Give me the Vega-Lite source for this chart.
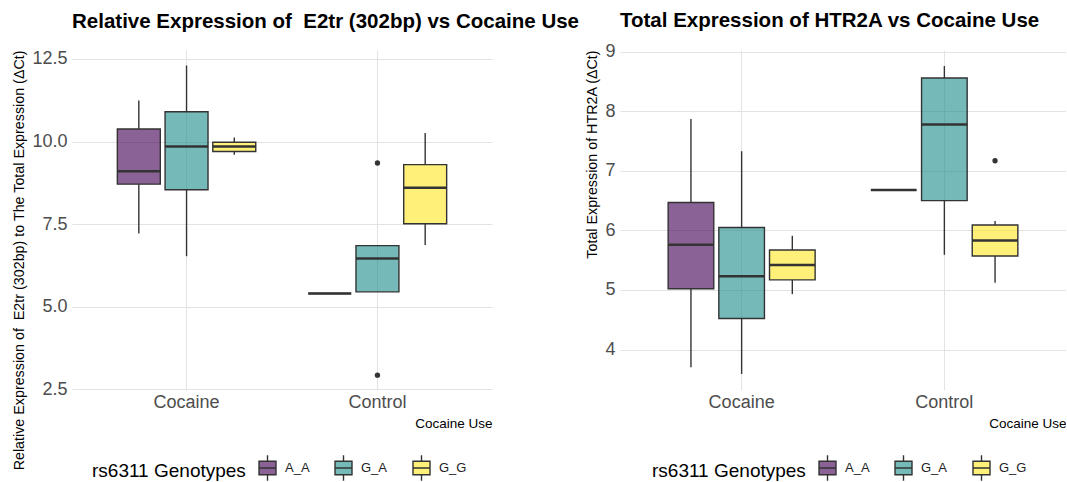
{
  "$schema": "https://vega.github.io/schema/vega-lite/v6.json",
  "padding": {"left": 12, "top": 11, "right": 0, "bottom": 0},
  "background": "white",
  "datasets": {
    "boxes": [
      {"panel": "E2tr", "use": "Cocaine", "genotype": "A_A", "lower": 7.22, "q1": 8.71, "median": 9.10, "q3": 10.38, "upper": 11.24},
      {"panel": "E2tr", "use": "Cocaine", "genotype": "G_A", "lower": 6.53, "q1": 8.54, "median": 9.85, "q3": 10.90, "upper": 12.30},
      {"panel": "E2tr", "use": "Cocaine", "genotype": "G_G", "lower": 9.60, "q1": 9.70, "median": 9.85, "q3": 9.98, "upper": 10.12},
      {"panel": "E2tr", "use": "Control", "genotype": "A_A", "lower": 5.40, "q1": 5.40, "median": 5.40, "q3": 5.40, "upper": 5.40},
      {"panel": "E2tr", "use": "Control", "genotype": "G_A", "lower": 5.45, "q1": 5.45, "median": 6.46, "q3": 6.85, "upper": 6.85},
      {"panel": "E2tr", "use": "Control", "genotype": "G_G", "lower": 6.87, "q1": 7.51, "median": 8.60, "q3": 9.30, "upper": 10.26},
      {"panel": "HTR2A", "use": "Cocaine", "genotype": "A_A", "lower": 3.70, "q1": 5.02, "median": 5.76, "q3": 6.47, "upper": 7.87},
      {"panel": "HTR2A", "use": "Cocaine", "genotype": "G_A", "lower": 3.59, "q1": 4.52, "median": 5.23, "q3": 6.05, "upper": 7.33},
      {"panel": "HTR2A", "use": "Cocaine", "genotype": "G_G", "lower": 4.93, "q1": 5.17, "median": 5.42, "q3": 5.67, "upper": 5.91},
      {"panel": "HTR2A", "use": "Control", "genotype": "A_A", "lower": 6.68, "q1": 6.68, "median": 6.68, "q3": 6.68, "upper": 6.68},
      {"panel": "HTR2A", "use": "Control", "genotype": "G_A", "lower": 5.59, "q1": 6.50, "median": 7.78, "q3": 8.56, "upper": 8.76},
      {"panel": "HTR2A", "use": "Control", "genotype": "G_G", "lower": 5.12, "q1": 5.57, "median": 5.83, "q3": 6.09, "upper": 6.16}
    ],
    "outliers": [
      {"panel": "E2tr", "use": "Control", "genotype": "G_A", "value": 9.35},
      {"panel": "E2tr", "use": "Control", "genotype": "G_A", "value": 2.93},
      {"panel": "HTR2A", "use": "Control", "genotype": "G_G", "value": 7.17}
    ]
  },
  "spacing": 128,
  "bounds": "flush",
  "hconcat": [
    {
      "width": 420,
      "height": 340,
      "title": {"text": "Relative Expression of \u00a0E2tr (302bp) vs Cocaine Use", "offset": 17},
      "resolve": {"axis": {"y": "independent"}},
      "layer": [
        {
          "data": {"name": "boxes"},
          "transform": [{"filter": "datum.panel === 'E2tr'"}],
          "mark": {"type": "rule", "color": "#333333", "strokeWidth": 1.4},
          "encoding": {
            "x": {"field": "use", "type": "nominal", "scale": {"paddingInner": 0.25, "paddingOuter": 0.225}, "title": "Cocaine Use"},
            "xOffset": {"field": "genotype", "type": "nominal", "scale": {"domain": ["A_A", "G_A", "G_G"], "paddingInner": 0.1, "paddingOuter": 0.05}},
            "y": {"field": "lower", "type": "quantitative", "scale": {"domain": [2.48, 12.77], "nice": false, "zero": false},
                  "axis": {"values": [2.5, 5, 7.5, 10, 12.5], "format": ".1f", "title": "Relative Expression of \u00a0E2tr (302bp) to The Total Expression (ΔCt)"}},
            "y2": {"field": "q1"}
          }
        },
        {
          "data": {"name": "boxes"},
          "transform": [{"filter": "datum.panel === 'E2tr'"}],
          "mark": {"type": "rule", "color": "#333333", "strokeWidth": 1.4},
          "encoding": {
            "x": {"field": "use", "type": "nominal"},
            "xOffset": {"field": "genotype", "type": "nominal"},
            "y": {"field": "q3", "type": "quantitative",
                  "axis": {"orient": "right", "values": [3.75, 6.25, 8.75, 11.25], "labels": false, "ticks": false, "domain": false, "title": null, "gridColor": "#f0f0f0", "gridWidth": 0.8}},
            "y2": {"field": "upper"}
          }
        },
        {
          "data": {"name": "boxes"},
          "transform": [{"filter": "datum.panel === 'E2tr'"}],
          "mark": {"type": "bar", "stroke": "#333333", "strokeWidth": 1.4, "fillOpacity": 0.62},
          "encoding": {
            "x": {"field": "use", "type": "nominal"},
            "xOffset": {"field": "genotype", "type": "nominal"},
            "y": {"field": "q1", "type": "quantitative", "axis": null},
            "y2": {"field": "q3"},
            "color": {"field": "genotype", "type": "nominal", "scale": {"domain": ["A_A", "G_A", "G_G"], "range": ["#440154", "#21908C", "#FDE725"]},
                      "legend": {"title": "rs6311 Genotypes", "orient": "none", "legendX": 20, "legendY": 408,
                                 "encode": {"symbols": {"update": {"fillOpacity": {"value": 0.62}, "stroke": {"value": "#333333"}, "strokeWidth": {"value": 1.4}}}}}}
          }
        },
        {
          "data": {"name": "boxes"},
          "transform": [{"filter": "datum.panel === 'E2tr'"}],
          "mark": {"type": "bar", "fill": "transparent", "stroke": "#333333", "strokeWidth": 2.6},
          "encoding": {
            "x": {"field": "use", "type": "nominal"},
            "xOffset": {"field": "genotype", "type": "nominal"},
            "y": {"field": "median", "type": "quantitative", "axis": null},
            "y2": {"field": "median"}
          }
        },
        {
          "data": {"name": "outliers"},
          "transform": [{"filter": "datum.panel === 'E2tr'"}],
          "mark": {"type": "point", "filled": true, "color": "#333333", "size": 28, "opacity": 1},
          "encoding": {
            "x": {"field": "use", "type": "nominal"},
            "xOffset": {"field": "genotype", "type": "nominal"},
            "y": {"field": "value", "type": "quantitative", "axis": null}
          }
        }
      ]
    },
    {
      "width": 446,
      "height": 340,
      "title": {"text": "Total Expression of HTR2A vs Cocaine Use", "offset": 11},
      "resolve": {"axis": {"y": "independent"}},
      "layer": [
        {
          "data": {"name": "boxes"},
          "transform": [{"filter": "datum.panel === 'HTR2A'"}],
          "mark": {"type": "rule", "color": "#333333", "strokeWidth": 1.4},
          "encoding": {
            "x": {"field": "use", "type": "nominal", "scale": {"paddingInner": 0.25, "paddingOuter": 0.225}, "title": "Cocaine Use"},
            "xOffset": {"field": "genotype", "type": "nominal", "scale": {"domain": ["A_A", "G_A", "G_G"], "paddingInner": 0.1, "paddingOuter": 0.05}},
            "y": {"field": "lower", "type": "quantitative", "scale": {"domain": [3.32, 9.03], "nice": false, "zero": false},
                  "axis": {"values": [4, 5, 6, 7, 8, 9], "format": "d", "title": "Total Expression of HTR2A (ΔCt)"}},
            "y2": {"field": "q1"}
          }
        },
        {
          "data": {"name": "boxes"},
          "transform": [{"filter": "datum.panel === 'HTR2A'"}],
          "mark": {"type": "rule", "color": "#333333", "strokeWidth": 1.4},
          "encoding": {
            "x": {"field": "use", "type": "nominal"},
            "xOffset": {"field": "genotype", "type": "nominal"},
            "y": {"field": "q3", "type": "quantitative",
                  "axis": {"orient": "right", "values": [3.5, 4.5, 5.5, 6.5, 7.5, 8.5], "labels": false, "ticks": false, "domain": false, "title": null, "gridColor": "#f0f0f0", "gridWidth": 0.8}},
            "y2": {"field": "upper"}
          }
        },
        {
          "data": {"name": "boxes"},
          "transform": [{"filter": "datum.panel === 'HTR2A'"}],
          "mark": {"type": "bar", "stroke": "#333333", "strokeWidth": 1.4, "fillOpacity": 0.62},
          "encoding": {
            "x": {"field": "use", "type": "nominal"},
            "xOffset": {"field": "genotype", "type": "nominal"},
            "y": {"field": "q1", "type": "quantitative", "axis": null},
            "y2": {"field": "q3"},
            "color": {"field": "genotype", "type": "nominal", "scale": {"domain": ["A_A", "G_A", "G_G"], "range": ["#440154", "#21908C", "#FDE725"]},
                      "legend": {"title": "rs6311 Genotypes", "orient": "none", "legendX": 32, "legendY": 408,
                                 "encode": {"symbols": {"update": {"fillOpacity": {"value": 0.62}, "stroke": {"value": "#333333"}, "strokeWidth": {"value": 1.4}}}}}}
          }
        },
        {
          "data": {"name": "boxes"},
          "transform": [{"filter": "datum.panel === 'HTR2A'"}],
          "mark": {"type": "bar", "fill": "transparent", "stroke": "#333333", "strokeWidth": 2.6},
          "encoding": {
            "x": {"field": "use", "type": "nominal"},
            "xOffset": {"field": "genotype", "type": "nominal"},
            "y": {"field": "median", "type": "quantitative", "axis": null},
            "y2": {"field": "median"}
          }
        },
        {
          "data": {"name": "outliers"},
          "transform": [{"filter": "datum.panel === 'HTR2A'"}],
          "mark": {"type": "point", "filled": true, "color": "#333333", "size": 28, "opacity": 1},
          "encoding": {
            "x": {"field": "use", "type": "nominal"},
            "xOffset": {"field": "genotype", "type": "nominal"},
            "y": {"field": "value", "type": "quantitative", "axis": null}
          }
        }
      ]
    }
  ],
  "resolve": {
    "scale": {"x": "independent", "y": "independent", "color": "independent", "xOffset": "independent"},
    "legend": {"color": "independent"}
  },
  "config": {
    "font": "Liberation Sans",
    "view": {"stroke": null},
    "title": {"fontSize": 20.5, "fontWeight": "bold", "color": "#000000", "anchor": "start", "frame": "group", "font": "Liberation Sans"},
    "axis": {
      "domain": false,
      "ticks": false,
      "grid": true,
      "gridColor": "#e3e3e3",
      "gridWidth": 1,
      "labelFont": "Liberation Sans",
      "labelFontSize": 18,
      "labelColor": "#4d4d4d",
      "labelPadding": 5,
      "titleFont": "Liberation Sans",
      "titleFontSize": 14.3,
      "titleFontWeight": "normal",
      "titleColor": "#000000"
    },
    "axisX": {"labelAngle": 0, "bandPosition": 0.5, "titleAnchor": "end", "titlePadding": 5, "labelPadding": 3, "titleFontSize": 13.5},
    "axisY": {"titleAnchor": "end", "titlePadding": 5},
    "legend": {
      "direction": "horizontal",
      "titleOrient": "left",
      "titleFont": "Liberation Sans",
      "titleFontSize": 19,
      "titleFontWeight": "normal",
      "titleColor": "#000000",
      "titlePadding": 12,
      "titleBaseline": "middle",
      "labelFont": "Liberation Sans",
      "labelFontSize": 13,
      "labelColor": "#222222",
      "labelOffset": 8,
      "columnPadding": 22,
      "symbolType": "M-1,-0.8H1V0.8H-1Z M-1,0H1 M0,-0.8V-1.5 M0,0.8V1.5",
      "symbolSize": 289,
      "symbolStrokeColor": "#333333",
      "symbolStrokeWidth": 1.4,
      "symbolOpacity": 1
    }
  }
}
